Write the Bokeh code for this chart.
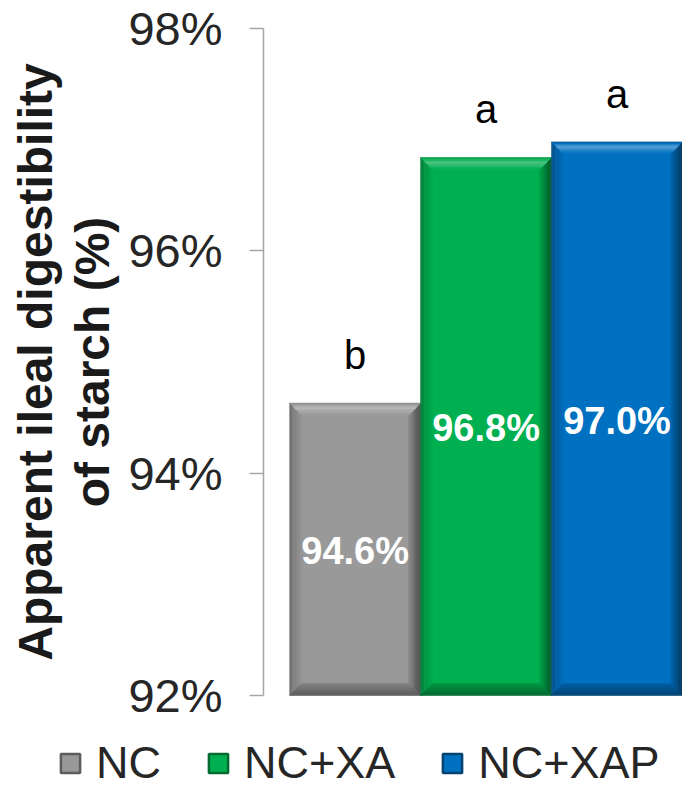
from bokeh.plotting import figure
from bokeh.models import ColumnDataSource, Legend, LegendItem, FixedTicker, Range1d
from bokeh.embed import file_html
from bokeh.resources import INLINE
from bokeh.core.properties import value

# ---- data ----
groups = ["NC", "NC+XA", "NC+XAP"]
digestibility = [94.63, 96.84, 96.98]
value_labels = ["94.6%", "96.8%", "97.0%"]
letters = ["b", "a", "a"]
y_ticks = [92, 94, 96, 98]
y_tick_labels = ["92%", "94%", "96%", "98%"]

# ---- layout (pixels) ----
W, H = 682, 790
AX_X, TOP_Y, BOT_Y = 263, 28, 695      # axis line x, 98% y, 92% y
X_LO, X_HI = -0.7, 2.5                  # data x at axis line / right edge
Y_LO, Y_HI = 92.0, 98.0
ppx = (W - AX_X) / (X_HI - X_LO)
ppy = (BOT_Y - TOP_Y) / (Y_HI - Y_LO)

# ---- styles ----
main_colors = [(153, 153, 153), (0, 176, 80), (0, 112, 192)]
FONT = "Liberation Sans"
base = Y_LO
bw = 1.0
bx = 12 / ppx
by = 12 / ppy
NSTRIP = 10

stops = {
    "top": [(0, -0.2), (0.45, 0.32), (0.7, 0.18), (1, 0.0)],
    "left": [(0, -0.3), (0.5, -0.12), (1, -0.03)],
    "right": [(0, -0.55), (0.5, -0.3), (1, -0.08)],
    "bottom": [(0, -0.42), (1, -0.15)],
}


def mix(c, m):
    if m >= 0:
        r = [ci + (255 - ci) * m for ci in c]
    else:
        r = [ci * (1 + m) for ci in c]
    return "#%02x%02x%02x" % tuple(int(round(max(0, min(255, v)))) for v in r)


def interp(st, t):
    for (t0, m0), (t1, m1) in zip(st, st[1:]):
        if t0 <= t <= t1:
            return m0 + (m1 - m0) * (t - t0) / (t1 - t0)
    return st[-1][1]


p = figure(width=W, height=H, output_backend="svg", toolbar_location=None,
           x_range=Range1d(X_LO - AX_X / ppx, X_HI),
           y_range=Range1d(Y_LO - (H - BOT_Y) / ppy, Y_HI + TOP_Y / ppy),
           min_border=0)
p.outline_line_color = None
p.xgrid.visible = False
p.ygrid.visible = False
p.xaxis.visible = False
p.background_fill_color = "white"
p.border_fill_color = "white"

items = []
xs, ys, cols = [], [], []
for i, v in enumerate(digestibility):
    x0, x1 = i - bw / 2, i + bw / 2
    c = main_colors[i]
    face = p.patch([x0 + bx / 2, x1 - bx / 2, x1 - bx / 2, x0 + bx / 2],
                   [base + by / 2, base + by / 2, v - by / 2, v - by / 2],
                   fill_color=mix(c, 0), line_color=mix(c, -0.4), line_width=2.5)
    items.append(LegendItem(label=groups[i], renderers=[face]))

    def side(name, ta, tb):
        if name == "top":
            return ([x0 + ta * bx, x1 - ta * bx, x1 - tb * bx, x0 + tb * bx],
                    [v - ta * by, v - ta * by, v - tb * by, v - tb * by])
        if name == "bottom":
            return ([x0 + ta * bx, x1 - ta * bx, x1 - tb * bx, x0 + tb * bx],
                    [base + ta * by, base + ta * by, base + tb * by, base + tb * by])
        if name == "left":
            return ([x0 + ta * bx, x0 + ta * bx, x0 + tb * bx, x0 + tb * bx],
                    [base + ta * by, v - ta * by, v - tb * by, base + tb * by])
        return ([x1 - ta * bx, x1 - ta * bx, x1 - tb * bx, x1 - tb * bx],
                [base + ta * by, v - ta * by, v - tb * by, base + tb * by])

    for name in ["left", "right", "bottom", "top"]:
        for k in range(NSTRIP):
            ta, tb = k / NSTRIP, (k + 1) / NSTRIP
            sx, sy = side(name, ta, tb)
            xs.append(sx)
            ys.append(sy)
            cols.append(mix(c, interp(stops[name], (ta + tb) / 2)))

p.patches(xs="xs", ys="ys", fill_color="c", line_color="c", line_width=0.6,
          source=ColumnDataSource(dict(xs=xs, ys=ys, c=cols)))

src = ColumnDataSource(dict(x=list(range(len(groups))), top=digestibility,
                            mid=[(base + v) / 2 for v in digestibility],
                            lab=value_labels, let=letters))
p.text(x="x", y="mid", text="lab", source=src, text_color="white",
       text_font=value(FONT), text_font_style="bold", text_font_size="38px",
       text_align="center", text_baseline="middle", y_offset=2)
p.text(x="x", y="top", text="let", source=src, text_color="black",
       text_font=value(FONT), text_font_size="40px",
       text_align="center", text_baseline="alphabetic", y_offset=-48)

ax = p.yaxis[0]
ax.fixed_location = X_LO
ax.bounds = (Y_LO, Y_HI)
ax.ticker = FixedTicker(ticks=y_ticks)
ax.major_label_overrides = {t: l for t, l in zip(y_ticks, y_tick_labels)}
ax.major_label_text_font = FONT
ax.major_label_text_font_size = "47px"
ax.major_label_text_color = "#262626"
ax.major_label_standoff = 27
ax.major_tick_in = 0
ax.major_tick_out = 14
ax.minor_tick_line_color = None
ax.axis_line_color = "#a6a6a6"
ax.major_tick_line_color = "#a6a6a6"
ax.axis_line_width = 1.5
ax.major_tick_line_width = 1.5
ax.axis_label = "Apparent ileal digestibility\nof starch (%)"
ax.axis_label_text_font = FONT
ax.axis_label_text_font_style = "bold"
ax.axis_label_text_font_size = "48px"
ax.axis_label_text_color = "#1a1a1a"
ax.axis_label_text_line_height = 1.08
ax.axis_label_standoff = 6

legend = Legend(items=items, orientation="horizontal", location=(58, 1),
                label_text_font=FONT, label_text_font_size="45px",
                label_text_color="#262626", glyph_width=24, glyph_height=24,
                label_standoff=14, spacing=45, padding=0, margin=0,
                border_line_color=None, background_fill_alpha=0)
p.add_layout(legend, "center")

open("out.html", "w").write(file_html(p, INLINE))
